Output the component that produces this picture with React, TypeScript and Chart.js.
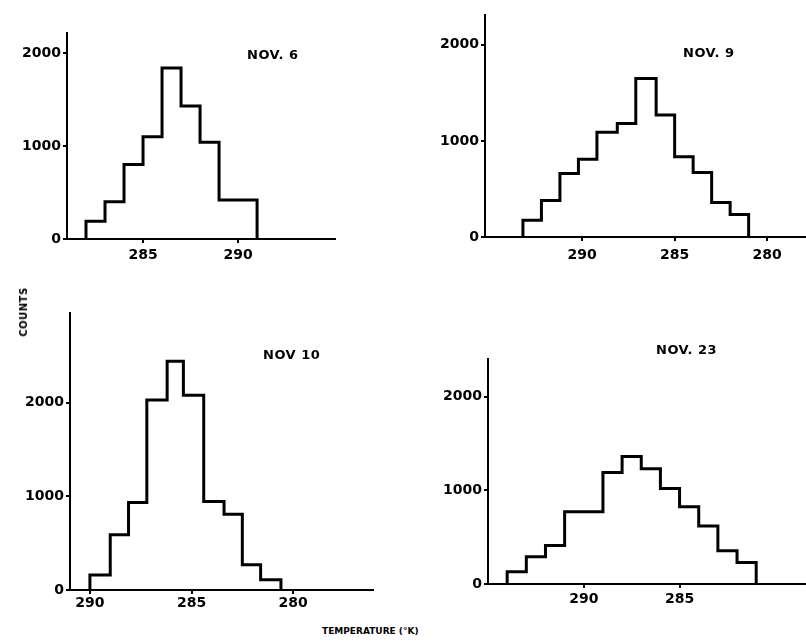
import React, { useEffect, useRef } from "react";
import { Chart, registerables } from "chart.js";

Chart.register(...registerables);

// ---- data (bin edges in K, counts per bin) ----
const nov6Edges = [282, 283, 284, 285, 286, 287, 288, 289, 291];
const nov6Counts = [190, 400, 800, 1100, 1840, 1430, 1040, 420];
const nov6Ticks = [285, 290];

const nov9Edges = [293.2, 292.2, 291.2, 290.2, 289.2, 288.1, 287.1, 286.0, 285.0, 284.0, 283.0, 282.0, 281.0];
const nov9Counts = [175, 380, 660, 810, 1090, 1180, 1650, 1270, 835, 670, 360, 235];
const nov9Ticks = [290, 285, 280];

const nov10Edges = [290.0, 289.0, 288.1, 287.2, 286.2, 285.4, 284.4, 283.4, 282.5, 281.6, 280.6];
const nov10Counts = [160, 590, 935, 2030, 2445, 2080, 945, 810, 270, 110];
const nov10Ticks = [290, 285, 280];

const nov23Edges = [294, 293, 292, 291, 290, 289, 288, 287, 286, 285, 284, 283, 282, 281];
const nov23Counts = [130, 290, 410, 770, 770, 1190, 1360, 1230, 1020, 825, 620, 355, 230];
const nov23Ticks = [290, 285];

const countTicks = [0, 1000, 2000];

const panelTitles = ["NOV. 6", "NOV. 9", "NOV 10", "NOV. 23"];
const yAxisTitle = "COUNTS";
const xAxisTitle = "TEMPERATURE (°K)";

// ---- layout ----
const YW = 52;
const XH = 26;
const FONT = "'DejaVu Sans', 'Liberation Sans', sans-serif";

type Panel = {
  edges: number[];
  counts: number[];
  xTicks: number[];
  xMin: number;
  xMax: number;
  yMax: number;
  reverse: boolean;
  xTickPad: number;
  box: { x: number; y: number; w: number; h: number };
  plot: { l: number; r: number; t: number; b: number };
  title: string;
  titlePos: { x: number; y: number };
};

const panels: Panel[] = [
  {
    edges: nov6Edges, counts: nov6Counts, xTicks: nov6Ticks,
    xMin: 281, xMax: 295.1, yMax: 2215, reverse: false, xTickPad: 4,
    box: { x: 0, y: 0, w: 403, h: 275 },
    plot: { l: 67, r: 335, t: 33, b: 239 },
    title: panelTitles[0], titlePos: { x: 247, y: 55 },
  },
  {
    edges: nov9Edges, counts: nov9Counts, xTicks: nov9Ticks,
    xMin: 277.9, xMax: 295.25, yMax: 2310, reverse: true, xTickPad: 6,
    box: { x: 403, y: 0, w: 403, h: 275 },
    plot: { l: 485, r: 806, t: 15, b: 237 },
    title: panelTitles[1], titlePos: { x: 683, y: 53 },
  },
  {
    edges: nov10Edges, counts: nov10Counts, xTicks: nov10Ticks,
    xMin: 276.07, xMax: 290.98, yMax: 2960, reverse: true, xTickPad: 1,
    box: { x: 0, y: 280, w: 403, h: 340 },
    plot: { l: 70, r: 373, t: 313, b: 590 },
    title: panelTitles[2], titlePos: { x: 263, y: 355 },
  },
  {
    edges: nov23Edges, counts: nov23Counts, xTicks: nov23Ticks,
    xMin: 278.4, xMax: 295.0, yMax: 2400, reverse: true, xTickPad: 3,
    box: { x: 403, y: 280, w: 403, h: 340 },
    plot: { l: 488, r: 806, t: 359, b: 584 },
    title: panelTitles[3], titlePos: { x: 656, y: 350 },
  },
];

function toSteps(edges: number[], counts: number[]) {
  const pts: { x: number; y: number }[] = [{ x: edges[0], y: 0 }];
  counts.forEach((c, i) => pts.push({ x: edges[i], y: c }));
  pts.push({ x: edges[edges.length - 1], y: 0 });
  return pts;
}

function HistPanel({ p }: { p: Panel }) {
  const ref = useRef<HTMLCanvasElement | null>(null);
  useEffect(() => {
    if (!ref.current) return;
    const { box, plot } = p;
    const padding = {
      left: plot.l - box.x - YW,
      top: plot.t - box.y,
      right: box.x + box.w - plot.r,
      bottom: box.y + box.h - plot.b - XH,
    };
    const tickFont = { family: FONT, size: 14, weight: "bold" as const };
    const chart = new Chart(ref.current, {
      type: "line",
      data: {
        datasets: [
          {
            data: toSteps(p.edges, p.counts),
            stepped: "before",
            borderColor: "#000",
            borderWidth: 3,
            pointRadius: 0,
            fill: false,
            borderJoinStyle: "miter",
          },
        ],
      },
      options: {
        animation: false,
        responsive: false,
        devicePixelRatio: 1,
        events: [],
        layout: { padding },
        plugins: { legend: { display: false }, tooltip: { enabled: false } },
        scales: {
          x: {
            type: "linear",
            min: p.xMin,
            max: p.xMax,
            reverse: p.reverse,
            afterBuildTicks: (s: any) => {
              s.ticks = p.xTicks.map((v) => ({ value: v }));
            },
            afterFit: (s: any) => {
              s.height = XH;
            },
            ticks: {
              font: tickFont,
              color: "#000",
              maxRotation: 0,
              autoSkip: false,
              padding: p.xTickPad,
              callback: (v: any) => String(v),
            },
            grid: { drawOnChartArea: false, tickLength: 4, color: "#000", lineWidth: 2 },
            border: { color: "#000", width: 2 },
          },
          y: {
            type: "linear",
            min: 0,
            max: p.yMax,
            afterBuildTicks: (s: any) => {
              s.ticks = countTicks.map((v) => ({ value: v }));
            },
            afterFit: (s: any) => {
              s.width = YW;
            },
            ticks: {
              font: tickFont,
              color: "#000",
              autoSkip: false,
              padding: 2,
              callback: (v: any) => String(v),
            },
            grid: { drawOnChartArea: false, tickLength: 4, color: "#000", lineWidth: 2 },
            border: { color: "#000", width: 2 },
          },
        },
      },
    } as any);
    return () => chart.destroy();
  }, [p]);
  return (
    <canvas
      ref={ref}
      width={p.box.w}
      height={p.box.h}
      style={{ position: "absolute", left: p.box.x, top: p.box.y, width: p.box.w, height: p.box.h }}
    />
  );
}

export default function App() {
  return (
    <div
      style={{
        position: "fixed",
        left: 0,
        top: 0,
        width: 806,
        height: 641,
        background: "#fff",
        overflow: "hidden",
      }}
    >
      {panels.map((p, i) => (
        <HistPanel key={i} p={p} />
      ))}
      {panels.map((p, i) => (
        <div
          key={"t" + i}
          style={{
            position: "absolute",
            left: p.titlePos.x,
            top: p.titlePos.y - 8,
            lineHeight: "16px",
            fontFamily: FONT,
            fontWeight: "bold",
            fontSize: 13,
            letterSpacing: 0.5,
            color: "#000",
            whiteSpace: "nowrap",
          }}
        >
          {p.title}
        </div>
      ))}
      <div
        style={{
          position: "absolute",
          left: 24,
          top: 312,
          transform: "translate(-50%, -50%) rotate(-90deg)",
          fontFamily: FONT,
          fontWeight: "bold",
          fontSize: 10,
          letterSpacing: 0.5,
          lineHeight: "12px",
          color: "#000",
          whiteSpace: "nowrap",
        }}
      >
        {yAxisTitle}
      </div>
      <div
        style={{
          position: "absolute",
          left: 322,
          top: 624,
          fontFamily: FONT,
          fontWeight: "bold",
          fontSize: 9,
          lineHeight: "14px",
          color: "#000",
          whiteSpace: "nowrap",
        }}
      >
        {xAxisTitle}
      </div>
    </div>
  );
}
